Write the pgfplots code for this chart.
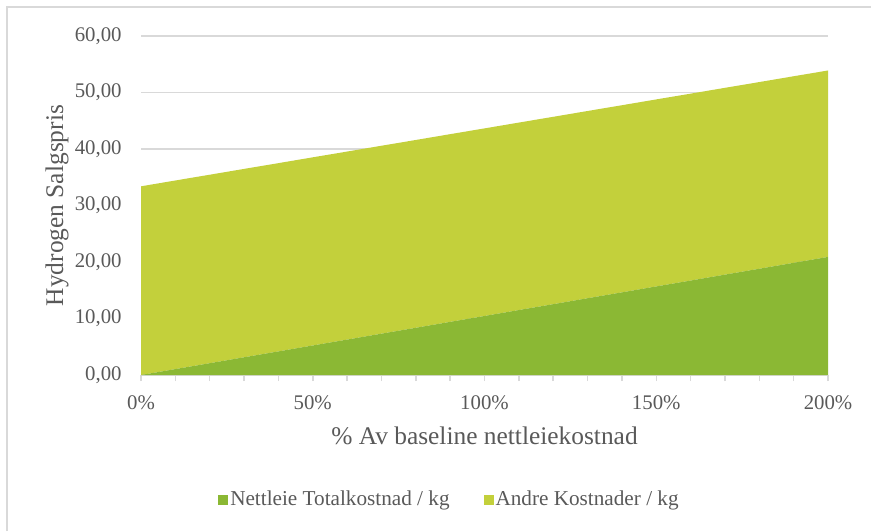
\documentclass[border=0pt]{standalone}
\usepackage{pgfplots}
\pgfplotsset{compat=1.18}
\usepackage{fontspec}
\setmainfont{Liberation Serif}

\definecolor{nettgreen}{HTML}{8BB834}
\definecolor{andregreen}{HTML}{C3D03B}
\definecolor{gridgray}{HTML}{D9D9D9}
\definecolor{textgray}{HTML}{595959}

% Salgspris per kg, split into grid tariff and other costs
\pgfplotstableread{
pct  nettleie  andre
0    0.00   33.40
10   1.05   33.38
20   2.09   33.36
30   3.14   33.34
40   4.18   33.32
50   5.23   33.30
60   6.27   33.28
70   7.32   33.26
80   8.36   33.24
90   9.41   33.22
100  10.45  33.20
110  11.50  33.18
120  12.54  33.16
130  13.59  33.14
140  14.63  33.12
150  15.68  33.10
160  16.72  33.08
170  17.77  33.06
180  18.81  33.04
190  19.86  33.02
200  20.90  33.00
}\pricedata

\begin{document}
\begin{tikzpicture}
\useasboundingbox (0,0) rectangle (435.5pt,-265.5pt);
\draw[gridgray, line width=1pt] (3.5pt,-265.5pt) -- (3.5pt,-3.5pt) -- (435.5pt,-3.5pt);
\begin{axis}[
  at={(70.5pt,-187.5pt)}, anchor=south west,
  scale only axis, width=343.5pt, height=169.5pt,
  xmin=0, xmax=200, ymin=0, ymax=60,
  stack plots=y,
  separate axis lines,
  axis x line*=bottom, axis y line*=left,
  x axis line style={draw=gridgray, line width=0.75pt, -},
  y axis line style={draw=none},
  ytick={0,10,...,60},
  ymajorgrids, grid style={gridgray, line width=0.75pt},
  ytick style={draw=none},
  xtick={0,50,...,200},
  minor xtick={0,10,...,200},
  xticklabels={0\%,50\%,100\%,150\%,200\%},
  tick align=outside,
  major tick length=3pt, minor tick length=3pt,
  xtick style={gridgray, line width=0.75pt},
  minor tick style={gridgray, line width=0.75pt},
  /pgf/number format/assume math mode=true,
  y tick label style={/pgf/number format/fixed, /pgf/number format/fixed zerofill,
    /pgf/number format/precision=2, /pgf/number format/use comma},
  ticklabel style={font=\fontsize{10.4}{12}\selectfont, text=textgray, inner sep=0pt},
  yticklabel style={anchor=east, xshift=-6.5pt},
  xticklabel style={anchor=center, yshift=-11pt},
  xlabel={\% Av baseline nettleiekostnad},
  ylabel={Hydrogen Salgspris},
  label style={font=\fontsize{12.7}{15}\selectfont, text=textgray},
  xlabel style={at={(axis description cs:0.5,-0.18)}, anchor=center},
  ylabel style={at={(axis description cs:-0.1223,0.5)}, anchor=center},
  legend columns=2,
  legend style={at={(axis description cs:0.449,-0.369)}, anchor=center,
    draw=none, fill=none, font=\fontsize{10.6}{12}\selectfont, text=textgray,
    /tikz/every even column/.append style={column sep=16pt},
    nodes={inner sep=1pt}},
  legend cell align=left,
  legend image code/.code={\fill[#1] (0pt,-2.5pt) rectangle (5pt,2.5pt);},
]
\addplot[fill=nettgreen, draw=none] table[x=pct, y=nettleie] {\pricedata} \closedcycle;
\addlegendentry{Nettleie Totalkostnad / kg}
\addplot[fill=andregreen, draw=none] table[x=pct, y=andre] {\pricedata} \closedcycle;
\addlegendentry{Andre Kostnader / kg}
\end{axis}
\end{tikzpicture}
\end{document}
